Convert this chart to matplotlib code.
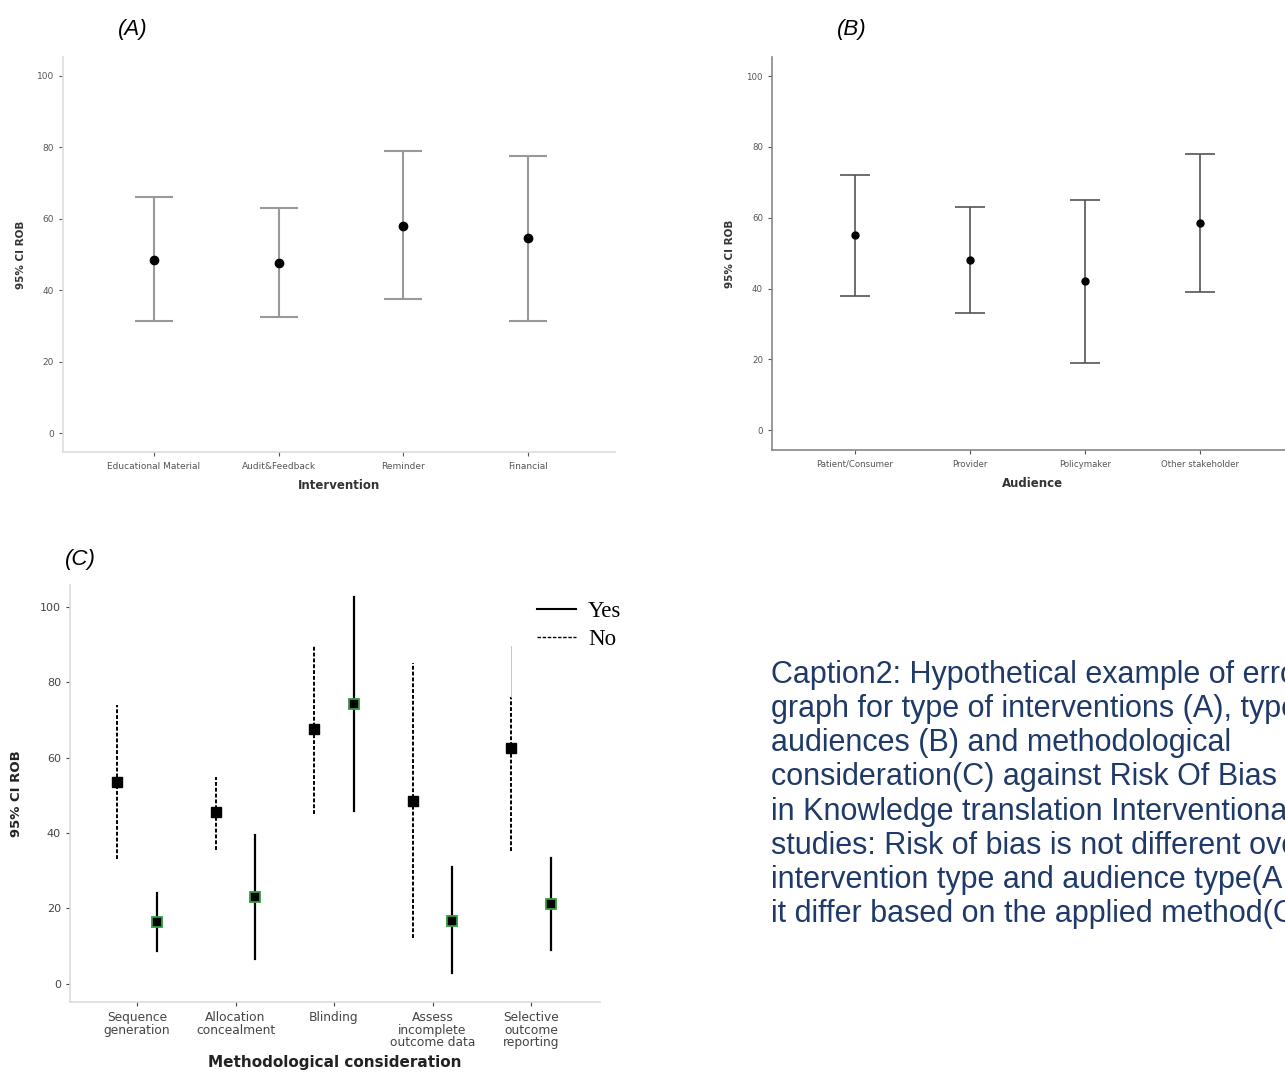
import numpy as np
import matplotlib.pyplot as plt
from matplotlib.lines import Line2D

# (A) intervention
interventions = ['Educational Material', 'Audit&Feedback', 'Reminder', 'Financial']
interv_mean = [48.5, 47.5, 58.0, 54.5]
interv_low = [31.5, 32.5, 37.5, 31.5]
interv_high = [66.0, 63.0, 79.0, 77.5]

# (B) audience
audiences = ['Patient/Consumer', 'Provider', 'Policymaker', 'Other stakeholder']
aud_mean = [55.0, 48.0, 42.0, 58.5]
aud_low = [38.0, 33.0, 19.0, 39.0]
aud_high = [72.0, 63.0, 65.0, 78.0]

# (C) methodological consideration
methods = ['Sequence\ngeneration', 'Allocation\nconcealment', 'Blinding',
           'Assess\nincomplete\noutcome data', 'Selective\noutcome\nreporting']
no_mean = [53.5, 45.5, 67.5, 48.5, 62.5]
no_low = [33.0, 35.5, 45.0, 12.3, 35.3]
no_high = [74.0, 55.0, 89.5, 85.0, 76.0]
no_faint_high = [None, None, None, None, 89.6]
yes_mean = [16.3, 23.0, 74.3, 16.8, 21.3]
yes_low = [8.7, 6.6, 45.9, 2.8, 9.0]
yes_high = [24.0, 39.4, 102.6, 30.9, 33.5]

# the caption runs past the right edge in the original, so it is cut there too
caption_lines = [
    'Caption2: Hypothetical example of error bar',
    'graph for type of interventions (A), type of',
    'audiences (B) and methodological',
    'consideration(C) against Risk Of Bias',
    'in Knowledge translation Interventional',
    'studies: Risk of bias is not different over',
    'intervention type and audience type(A, B) but',
    'it differ based on the applied method(C)',
]

W, H = 1285, 1073


def box(x0, x1, ytop, ybot):
    return [x0 / W, 1 - ybot / H, (x1 - x0) / W, (ybot - ytop) / H]


def spss_panel(ax, cats, mean, low, high, color, spine_color, capsize, lw, ms,
               xlabel, ylabel, tick_fs, xlim, ylim):
    x = np.arange(1, len(cats) + 1)
    mean = np.array(mean)
    err = [mean - np.array(low), np.array(high) - mean]
    ax.errorbar(x, mean, yerr=err, fmt='none', ecolor=color, elinewidth=lw,
                capsize=capsize, capthick=lw)
    ax.plot(x, mean, 'o', color='black', ms=ms, zorder=3)
    ax.set_xlim(*xlim)
    ax.set_ylim(*ylim)
    ax.set_yticks([0, 20, 40, 60, 80, 100])
    ax.set_xticks(x)
    ax.set_xticklabels(cats)
    for s in ['top', 'right']:
        ax.spines[s].set_visible(False)
    for s in ['left', 'bottom']:
        ax.spines[s].set_color(spine_color)
        ax.spines[s].set_linewidth(1.2)
    ax.tick_params(axis='both', labelsize=tick_fs, colors='#555555', length=3, width=0.8)
    ax.tick_params(axis='x', pad=4)
    ax.set_xlabel(xlabel, fontsize=8.5, fontweight='bold', color='#333333', labelpad=6)
    ax.set_ylabel(ylabel, fontsize=7.5, fontweight='bold', color='#333333', labelpad=8)


fig = plt.figure(figsize=(W / 100, H / 100), dpi=100)
plt.rcParams['font.family'] = ['DejaVu Sans']

axA = fig.add_axes(box(63, 615, 57, 452))
spss_panel(axA, interventions, interv_mean, interv_low, interv_high, '#999999',
           '#dddddd', 14, 1.5, 6, 'Intervention', '95% CI ROB', 6.5,
           (0.27, 4.7), (-5.3, 105.3))

axB = fig.add_axes(box(772, 1292, 57, 450))
spss_panel(axB, audiences, aud_mean, aud_low, aud_high, '#555555',
           '#888888', 11, 1.2, 5, 'Audience', '95% CI ROB', 6.2,
           (0.28, 4.8), (-5.6, 105.4))

# (C)
axC = fig.add_axes(box(70, 600, 585, 1002))
xc = np.arange(1, len(methods) + 1)
off = 0.2
for i in range(len(methods)):
    axC.plot([xc[i] - off] * 2, [no_low[i], no_high[i]], color='black', lw=1.4,
             ls=(0, (2, 1)), solid_capstyle='butt')
    if no_faint_high[i] is not None:
        axC.plot([xc[i] - off] * 2, [no_high[i], no_faint_high[i]], color='#bbbbbb', lw=0.6)
    axC.plot([xc[i] + off] * 2, [yes_low[i], yes_high[i]], color='black', lw=1.6)
axC.plot(xc - off, no_mean, 's', color='black', ms=7, zorder=3)
axC.plot(xc + off, yes_mean, 's', mfc='black', mec='#2e9e3e', mew=1.3, ms=7, zorder=3)
axC.set_xlim(0.32, 5.7)
axC.set_ylim(-4.8, 105.8)
axC.set_yticks([0, 20, 40, 60, 80, 100])
axC.set_xticks(xc)
axC.set_xticklabels(methods, linespacing=0.95)
for s in ['top', 'right']:
    axC.spines[s].set_visible(False)
for s in ['left', 'bottom']:
    axC.spines[s].set_color('#dddddd')
    axC.spines[s].set_linewidth(1.2)
axC.tick_params(axis='y', labelsize=8, colors='#444444', length=3, width=0.8)
axC.tick_params(axis='x', labelsize=8.8, colors='#444444', length=3, width=0.8)
axC.set_xlabel('Methodological consideration', fontsize=11, fontweight='bold',
               color='#222222', labelpad=4)
axC.set_ylabel('95% CI ROB', fontsize=9.5, fontweight='bold', color='#222222', labelpad=12)

handles = [Line2D([], [], color='black', lw=1.5),
           Line2D([], [], color='black', lw=1.0, ls=(0, (2.5, 1.2)))]
fig.legend(handles, ['Yes', 'No'], loc='upper left', bbox_to_anchor=(526 / W, 1 - 590 / H),
           frameon=False, prop={'family': 'Liberation Serif', 'size': 16.5},
           handlelength=1.7, handletextpad=0.5, labelspacing=0.3, borderpad=0)

# panel labels
for lbl, px, py in [('(A)', 133, 30), ('(B)', 852, 30), ('(C)', 80, 560)]:
    fig.text(px / W, 1 - py / H, lbl, fontsize=16, style='italic',
             family='Liberation Sans', ha='center', va='center')

fig.text(771 / W, 1 - 660 / H, '\n'.join(caption_lines), fontsize=22,
         family='Liberation Sans', color='#1f3a68', ha='left', va='top',
         linespacing=1.18)

fig.savefig('out.png', dpi=100)
